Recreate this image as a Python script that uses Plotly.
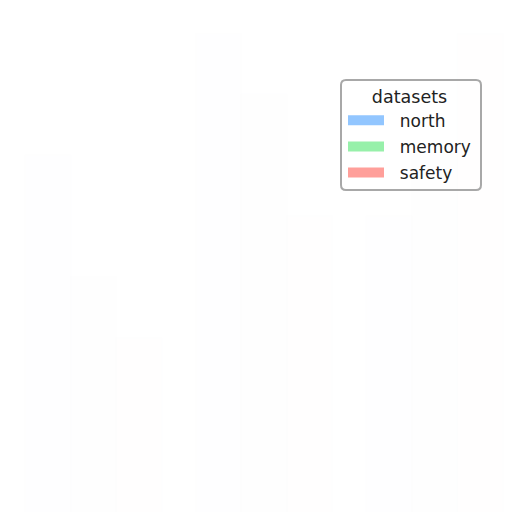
import plotly.graph_objects as go

# datasets shown in the legend; the bars themselves are almost washed out in the source
groups = ["q1", "q2", "q3"]
north = [3.0, 4.0, 2.5]
memory = [2.0, 3.5, 3.0]
safety = [1.5, 2.5, 4.0]

series = {"north": north, "memory": memory, "safety": safety}
colors = {"north": "#92c6ff", "memory": "#97f0aa", "safety": "#ff9f9a"}

OFF = 8  # page body margin


def px(v):
    return (v - OFF) / 512


def py(v):
    return 1 - (v - OFF) / 512


fig = go.Figure()

for name, vals in series.items():
    fig.add_trace(go.Bar(x=groups, y=vals, name=name, marker_color=colors[name],
                         opacity=0.003, showlegend=False))

# legend proxies (wide flat swatches like the original)
for name in series:
    fig.add_trace(go.Scatter(x=[None], y=[None], mode="lines",
                             name="\u00a0\u00a0" + name, legendgroup=name,
                             line=dict(color=colors[name], width=12)))

# rounded legend frame
x0, x1, y0, y1, r = px(341), px(481), py(80), py(190), 5 / 512
fig.add_shape(type="path", xref="paper", yref="paper", layer="above",
              path=(f"M{x0 + r},{y0} L{x1 - r},{y0} Q{x1},{y0} {x1},{y0 - r} "
                    f"L{x1},{y1 + r} Q{x1},{y1} {x1 - r},{y1} L{x0 + r},{y1} "
                    f"Q{x0},{y1} {x0},{y1 + r} L{x0},{y0 - r} Q{x0},{y0} {x0 + r},{y0} Z"),
              line=dict(color="#a8a8a8", width=2), fillcolor="rgba(0,0,0,0)")

fig.update_layout(
    width=512, height=512,
    margin=dict(l=0, r=0, t=0, b=0),
    paper_bgcolor="white", plot_bgcolor="white",
    barmode="group",
    xaxis=dict(visible=False),
    yaxis=dict(visible=False),
    font=dict(family="DejaVu Sans", size=17, color="#222222"),
    legend=dict(
        x=px(343), xanchor="left", y=py(80), yanchor="top",
        bgcolor="rgba(0,0,0,0)", borderwidth=0,
        itemwidth=36, tracegroupgap=1,
        title=dict(text="datasets", side="top center", font=dict(size=17.5)),
        font=dict(size=17),
    ),
)

fig.write_html("out.html")
